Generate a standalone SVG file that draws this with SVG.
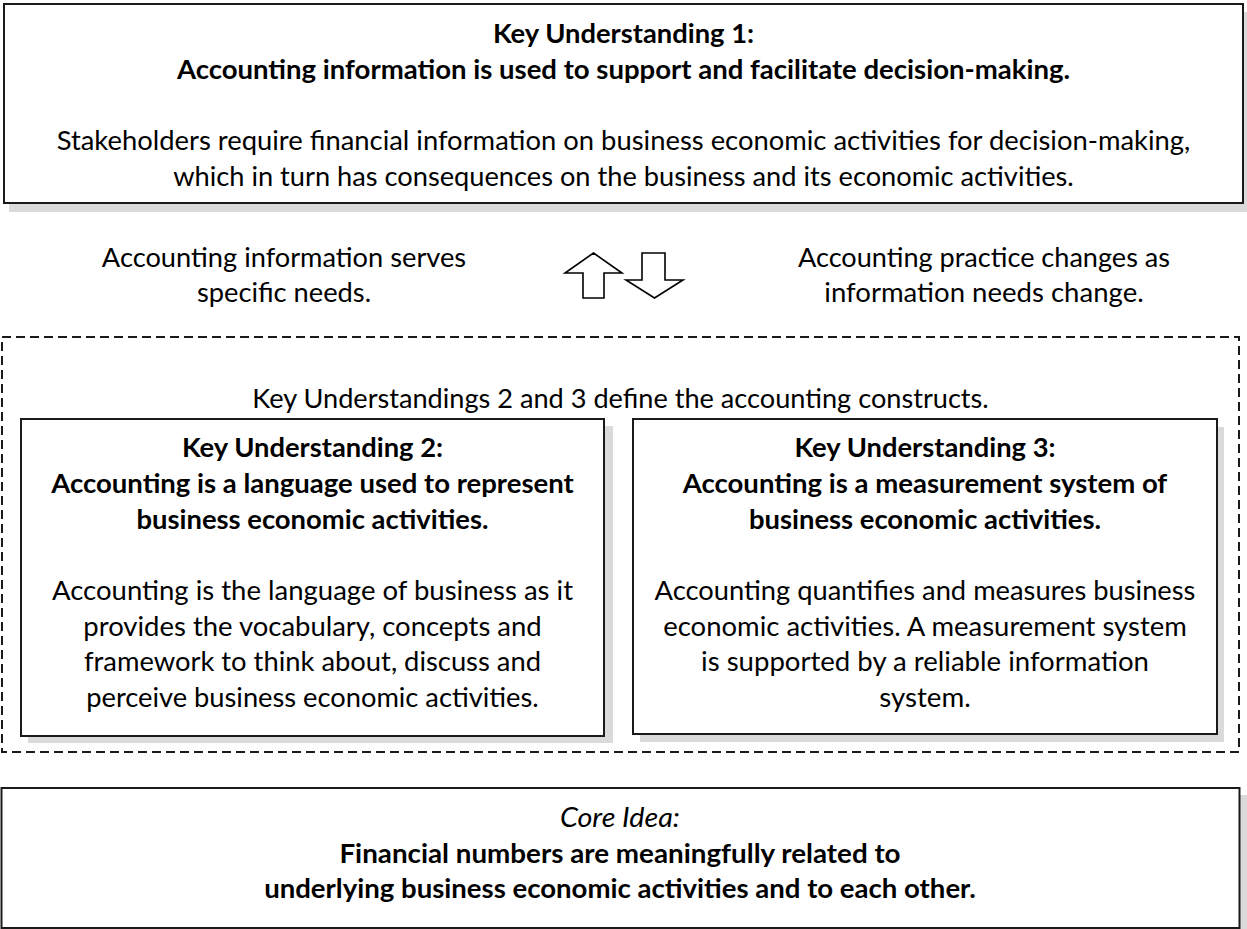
<svg xmlns="http://www.w3.org/2000/svg" width="1247" height="929" viewBox="0 0 1247 929">
<style>
.bg{fill:#fff}
.box{fill:#fff;stroke:#1a1a1a;stroke-width:2}
.shadow{fill:#dadada}
.dash{fill:none;stroke:#1a1a1a;stroke-width:2;stroke-dasharray:9 5}
.arrow{fill:#fff;stroke:#000;stroke-width:1.6;stroke-linejoin:miter}
text{font-family:Lato,"Liberation Sans",sans-serif;font-size:26.5px;fill:#000}
.b{font-weight:bold}
.i{font-style:italic}
</style>
<rect class="bg" x="0" y="0" width="1247" height="929"/>

<g id="ku1">
<rect class="shadow" x="9" y="12" width="1238" height="200"/>
<rect class="box" x="4" y="4" width="1239" height="199"/>
<text class="b" x="492.9" y="43" textLength="261.2" lengthAdjust="spacingAndGlyphs">Key Understanding 1:</text>
<text class="b" x="176.9" y="79" textLength="893.2" lengthAdjust="spacingAndGlyphs">Accounting information is used to support and facilitate decision-making.</text>
<text x="56.7" y="150" textLength="1133.6" lengthAdjust="spacingAndGlyphs">Stakeholders require financial information on business economic activities for decision-making,</text>
<text x="173.2" y="186" textLength="900.6" lengthAdjust="spacingAndGlyphs">which in turn has consequences on the business and its economic activities.</text>
</g>

<g id="note-left">
<text x="101.85" y="267" textLength="364.3" lengthAdjust="spacingAndGlyphs">Accounting information serves</text>
<text x="196.9" y="302" textLength="174.2" lengthAdjust="spacingAndGlyphs">specific needs.</text>
</g>

<g id="note-right">
<text x="798" y="267" textLength="372" lengthAdjust="spacingAndGlyphs">Accounting practice changes as</text>
<text x="824.3" y="302" textLength="319.4" lengthAdjust="spacingAndGlyphs">information needs change.</text>
</g>

<g id="connectors">
<polygon class="arrow" points="593.5,253 622,273 604,273 604,298 583,298 583,273 565,273"/>
<polygon class="arrow" points="642,253 665,253 665,280 683,280 654.5,298 626,280 642,280"/>
</g>

<g id="constructs">
<rect class="dash" x="2" y="337" width="1237" height="415"/>
<text x="252.25" y="408" textLength="736.5" lengthAdjust="spacingAndGlyphs">Key Understandings 2 and 3 define the accounting constructs.</text>
</g>

<g id="ku2">
<rect class="shadow" x="28" y="426" width="585" height="317"/>
<rect class="box" x="21" y="419" width="583" height="317"/>
<text class="b" x="181.9" y="457" textLength="261.2" lengthAdjust="spacingAndGlyphs">Key Understanding 2:</text>
<text class="b" x="51.25" y="493" textLength="522.5" lengthAdjust="spacingAndGlyphs">Accounting is a language used to represent</text>
<text class="b" x="136.45" y="529" textLength="352.1" lengthAdjust="spacingAndGlyphs">business economic activities.</text>
<text x="51.95" y="600" textLength="521.1" lengthAdjust="spacingAndGlyphs">Accounting is the language of business as it</text>
<text x="83.35" y="636" textLength="458.3" lengthAdjust="spacingAndGlyphs">provides the vocabulary, concepts and</text>
<text x="84" y="671" textLength="457" lengthAdjust="spacingAndGlyphs">framework to think about, discuss and</text>
<text x="86.25" y="707" textLength="452.5" lengthAdjust="spacingAndGlyphs">perceive business economic activities.</text>
</g>

<g id="ku3">
<rect class="shadow" x="640" y="427" width="584" height="315"/>
<rect class="box" x="633" y="419" width="584" height="315"/>
<text class="b" x="794.4" y="457" textLength="261.2" lengthAdjust="spacingAndGlyphs">Key Understanding 3:</text>
<text class="b" x="682.75" y="493" textLength="484.5" lengthAdjust="spacingAndGlyphs">Accounting is a measurement system of</text>
<text class="b" x="748.95" y="529" textLength="352.1" lengthAdjust="spacingAndGlyphs">business economic activities.</text>
<text x="654.55" y="600" textLength="540.9" lengthAdjust="spacingAndGlyphs">Accounting quantifies and measures business</text>
<text x="663.25" y="636" textLength="523.5" lengthAdjust="spacingAndGlyphs">economic activities. A measurement system</text>
<text x="701.05" y="671" textLength="447.9" lengthAdjust="spacingAndGlyphs">is supported by a reliable information</text>
<text x="879.25" y="707" textLength="91.5" lengthAdjust="spacingAndGlyphs">system.</text>
</g>

<g id="core">
<rect class="shadow" x="7" y="795" width="1240" height="140"/>
<rect class="box" x="1.5" y="788" width="1238" height="140"/>
<text class="i" x="560" y="827" textLength="120" lengthAdjust="spacingAndGlyphs">Core Idea:</text>
<text class="b" x="339.4" y="863" textLength="561.2" lengthAdjust="spacingAndGlyphs">Financial numbers are meaningfully related to</text>
<text class="b" x="264.15" y="898" textLength="711.7" lengthAdjust="spacingAndGlyphs">underlying business economic activities and to each other.</text>
</g>
</svg>
